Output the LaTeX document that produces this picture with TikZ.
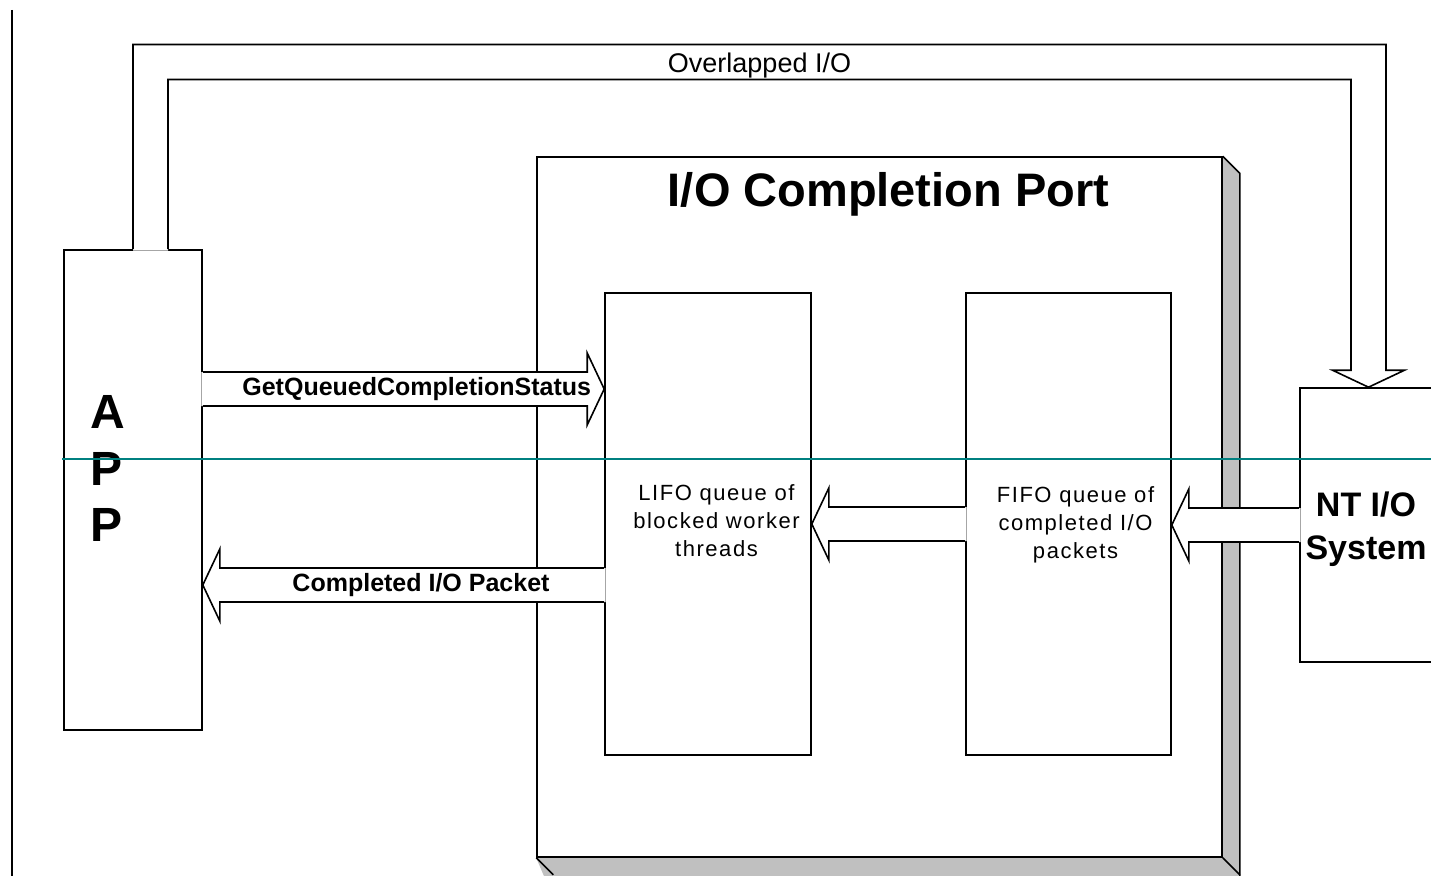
\documentclass[tikz,border=0pt]{standalone}
\usepackage{fontspec}
\setmainfont{Liberation Sans}
\usetikzlibrary{calc,backgrounds}

\definecolor{shadegray}{RGB}{192,192,192}
\definecolor{guideteal}{RGB}{0,128,128}

% Horizontal block arrow: #1 = tail point (on the source box edge), #2 = tip point.
% The white fill reaches a little into the source box so that its edge is opened.
\newcommand\hblockarrow[2]{%
  \fill[white] let \p1=(#1), \p2=(#2), \p3=($(#2)!17pt!(#1)$), \p4=($(#1)!-1.5pt!(#2)$) in
    (\x4,\y1+17pt) -- (\x3,\y1+17pt) -- (\x3,\y1+36pt) -- (\x2,\y2)
    -- (\x3,\y1-36pt) -- (\x3,\y1-17pt) -- (\x4,\y1-17pt) -- cycle;
  \draw[outline] let \p1=(#1), \p2=(#2), \p3=($(#2)!17pt!(#1)$) in
    (\x1,\y1+17pt) -- (\x3,\y1+17pt) -- (\x3,\y1+36pt) -- (\x2,\y2)
    -- (\x3,\y1-36pt) -- (\x3,\y1-17pt) -- (\x1,\y1-17pt);
}

\begin{document}
\begin{tikzpicture}[x=1pt,y=-1pt,
  outline/.style={draw=black,line width=1.6pt,line join=miter},
  box/.style={outline,fill=white,inner sep=0pt},
  lbl/.style={inner sep=0pt,text=black},
  boldtxt/.style={font={\fontsize{#1}{#1}\selectfont\bfseries}},
  plaintxt/.style={font={\fontsize{#1}{#1}\selectfont}},
  queuetxt/.style={lbl,align=center,font={\fontsize{22}{28}\selectfont\addfontfeatures{LetterSpace=7}}},
]
\useasboundingbox (0,0) rectangle (1431,875);
\clip (0,0) rectangle (1431,875);

% margin rule on the left
\coordinate (ruleTop) at (12,10);
\coordinate (ruleBot) at (12,876);
\draw[outline,line width=2pt] (ruleTop) -- (ruleBot);

% ---- I/O completion port (with 3-D side and bottom faces)
\node[box,minimum width=685pt,minimum height=700pt] (port) at (879.5,507) {};
\begin{scope}[on background layer]
  \fill[shadegray] (port.north east) -- ++(17,17) -- ++(0,720) -- ([shift={(17,40)}]port.south west)
     -- (port.south west) -- cycle;
  \draw[outline] (port.north east) -- ++(17,17) -- ++(0,720);
  \draw[outline] (port.south west) -- ++(17,17);
  \draw[outline] (port.south east) -- ++(17,17);
\end{scope}
\node[lbl,boldtxt=47,anchor=base] (title) at (888.5,206) {I/O Completion Port};

% ---- queues inside the port
\node[box,minimum width=206pt,minimum height=462pt] (lifo) at (708,524) {};
\node[box,minimum width=205pt,minimum height=462pt] (fifo) at (1068.5,524) {};
\node[queuetxt] (lifotext) at (716.5,520.5) {LIFO queue of\\blocked worker\\threads};
\node[queuetxt] (fifotext) at (1075.5,524.5) {FIFO queue of\\completed I/O\\packets};

% ---- application and NT I/O system
\node[box,minimum width=138pt,minimum height=480pt] (app) at (133,490) {};
\node[box,minimum width=137pt,minimum height=274pt] (nt) at (1368.5,525) {};
\node[lbl,boldtxt=48,anchor=base west] (appA)  at (90.5,428.3) {A};
\node[lbl,boldtxt=48,anchor=base west] (appP1) at (90.5,485)   {P};
\node[lbl,boldtxt=48,anchor=base west] (appP2) at (90.5,541.7) {P};
\node[lbl,align=center,font={\fontsize{34}{43}\selectfont\bfseries}]
  (nttext) at (1366,529.4) {NT I/O\\System};

% ---- overlapped I/O pipe from the application to the NT I/O system
\coordinate (pipeStart) at ([xshift=17.5pt]app.north);
\coordinate (pipeLevel) at (0,62);
\fill[white] let \p1=(pipeStart), \p2=(nt.north), \p3=(pipeLevel) in
  (\x1-17.5pt,\y1-1.5pt) -- (\x1-17.5pt,\y3+17.5pt) -- (\x2+17.5pt,\y3+17.5pt)
  -- (\x2+17.5pt,\y2+17pt) -- (\x2+36pt,\y2+17pt) -- (\x2,\y2) -- (\x2-36pt,\y2+17pt)
  -- (\x2-17.5pt,\y2+17pt) -- (\x2-17.5pt,\y3-17.5pt) -- (\x1+17.5pt,\y3-17.5pt)
  -- (\x1+17.5pt,\y1-1.5pt) -- cycle;
\draw[outline] let \p1=(pipeStart), \p2=(nt.north), \p3=(pipeLevel) in
  (\x1-17.5pt,\y1) -- (\x1-17.5pt,\y3+17.5pt) -- (\x2+17.5pt,\y3+17.5pt)
  -- (\x2+17.5pt,\y2+17pt) -- (\x2+36pt,\y2+17pt) -- (\x2,\y2) -- (\x2-36pt,\y2+17pt)
  -- (\x2-17.5pt,\y2+17pt) -- (\x2-17.5pt,\y3-17.5pt) -- (\x1+17.5pt,\y3-17.5pt)
  -- (\x1+17.5pt,\y1);
\node[lbl,plaintxt=27,anchor=base] (overlapped) at (759.5,72) {Overlapped I/O};

% ---- block arrows between the boxes
\coordinate (gqLevel) at (0,389);
\coordinate (gqTail) at (app.east |- gqLevel);
\coordinate (gqTip)  at (lifo.west |- gqLevel);
\hblockarrow{gqTail}{gqTip}
\node[lbl,boldtxt=25,anchor=base] (gqtext) at (416.7,395) {GetQueuedCompletionStatus};

\coordinate (cpLevel) at (0,585);
\coordinate (cpTail) at (lifo.west |- cpLevel);
\coordinate (cpTip)  at (app.east |- cpLevel);
\hblockarrow{cpTail}{cpTip}
\node[lbl,boldtxt=25,anchor=base] (cptext) at (421,591.7) {Completed I/O Packet};

\hblockarrow{fifo.west}{lifo.east}

\coordinate (ntTip) at (fifo.east |- nt.west);
\hblockarrow{nt.west}{ntTip}

% horizontal guide line
\coordinate (guideL) at (62,459);
\coordinate (guideR) at (1432,459);
\draw[guideteal,line width=2pt] (guideL) -- (guideR);
\end{tikzpicture}
\end{document}
